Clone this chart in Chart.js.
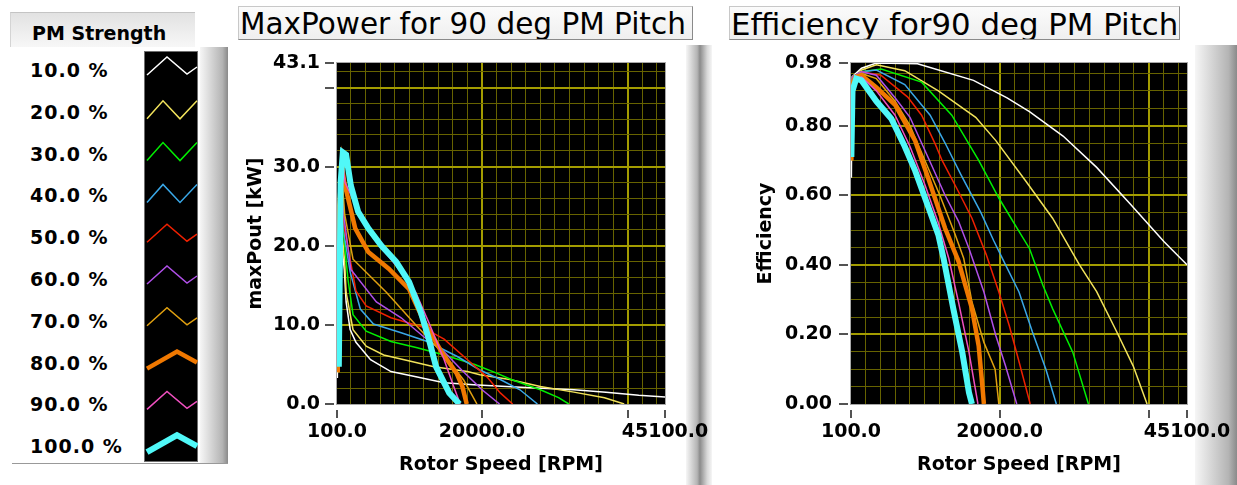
<!DOCTYPE html>
<html>
<head>
<meta charset="utf-8">
<script src="https://cdn.jsdelivr.net/npm/chart.js@4.4.1/dist/chart.umd.min.js"></script>
<style>
  body { margin: 0; width: 1237px; height: 485px; overflow: hidden; position: relative; background: #fff;
         font-family: "DejaVu Sans", Verdana, sans-serif; }
  .abs { position: absolute; }
  .tab { left: 10px; top: 12px; width: 185px; height: 35px; background: linear-gradient(#e2e2e2, #f7f7f7);
         border-top: 1px solid #c4c4c4; border-left: 1px solid #d4d4d4; box-sizing: border-box;
         font-weight: bold; font-size: 19px; line-height: 40px; padding-left: 21px; }
  .legbox { left: 12px; top: 47px; width: 216px; height: 416px; background: #fff; border-bottom: 1px solid #999; }
  .shade-r { background: linear-gradient(to right, #f6f6f6, #b4b4b4 80%, #8a8a8a); }
  .shade-l { background: linear-gradient(to right, #8c8c8c, #d8d8d8 60%, #f6f6f6); }
  .leglabel { left: 30px; font-weight: bold; font-size: 19px; line-height: 22px; white-space: nowrap; letter-spacing: 1px; }
  .title { height: 34px; box-sizing: border-box; background: linear-gradient(#fbfbfb, #efefef);
           border: 1px solid #c8c8c8; border-right-color: #8a8a8a; border-bottom-color: #8a8a8a;
           line-height: 34px; padding-left: 1px; white-space: nowrap; overflow: hidden; }
</style>
</head>
<body>
<div class="abs tab">PM Strength</div>
<div class="abs legbox"></div>
<div class="abs shade-r" style="left:200px;top:47px;width:28px;height:416px"></div>
<canvas id="legendSwatches" class="abs" width="54" height="411" style="left:144px;top:51px"></canvas>
<div id="legendLabels"></div>

<div class="abs" style="left:232px;top:45px;width:468px;height:440px;background:#fff"></div>
<div class="abs shade-r" style="left:686px;top:45px;width:14px;height:440px"></div>
<div class="abs title" style="left:238px;top:6px;width:455px;font-size:29.5px">MaxPower for 90 deg PM Pitch</div>

<div class="abs" style="left:700px;top:45px;width:537px;height:440px;background:#fff"></div>
<div class="abs shade-l" style="left:700px;top:45px;width:12px;height:440px"></div>
<div class="abs shade-r" style="left:1195px;top:45px;width:42px;height:440px"></div>
<div class="abs title" style="left:729px;top:6px;width:451px;font-size:30.8px">Efficiency for90 deg PM Pitch</div>

<canvas id="effChart" class="abs" width="537" height="440" style="left:700px;top:45px"></canvas>
<canvas id="powerChart" class="abs" width="480" height="440" style="left:232px;top:45px;z-index:5"></canvas>

<script>
// PM Strength legend entries
const pmLabels = ['10.0 %', '20.0 %', '30.0 %', '40.0 %', '50.0 %', '60.0 %', '70.0 %', '80.0 %', '90.0 %', '100.0 %'];

// MaxPower: [rotor speed RPM, maxPout kW]
const power10 = [[150, 3.3], [300, 20], [700, 20.5], [1100, 17], [1350, 12.9], [1900, 9.4], [2700, 7.8], [4700, 5.6], [7500, 4.1], [11100, 3.4], [14800, 2.7], [19400, 2.4], [26000, 2.1], [32600, 1.8], [37000, 1.5], [41500, 1.1], [45100, 0.9]];
const power20 = [[200, 4], [450, 19.5], [800, 21.5], [1150, 18], [1350, 14.1], [2300, 9.4], [4100, 7.3], [6500, 6.2], [10200, 5.4], [13400, 4.7], [18000, 4.1], [19700, 3.7], [23800, 3.1], [28000, 2.2], [32600, 1.5], [36800, 0.8], [39500, 0]];
const power30 = [[200, 5], [450, 22], [800, 23.5], [1150, 20], [1600, 15.8], [2300, 11.3], [4100, 9.2], [7500, 7.9], [11100, 7.1], [14800, 6.2], [19000, 5.0], [22000, 3.9], [24000, 3.1], [28000, 1.8], [30500, 0.8], [31900, 0]];
const power40 = [[200, 6], [450, 23], [800, 25], [1150, 21], [1900, 16.7], [3300, 12], [5100, 10.1], [8900, 9], [12500, 7.9], [16600, 6], [19700, 4.3], [22500, 3.1], [25200, 1.8], [27600, 0]];
const power50 = [[200, 7], [450, 24], [800, 26], [1150, 22], [2700, 14.3], [4100, 12.4], [7500, 10.9], [11600, 9.8], [14800, 8.2], [18000, 5.6], [20700, 3.4], [22500, 1.4], [24200, 0]];
const power60 = [[200, 7], [450, 25], [800, 27], [1150, 23], [2000, 17], [5500, 12.9], [8900, 10.9], [12000, 8.5], [14800, 6.6], [17200, 4.3], [20000, 1.8], [22400, 0]];
const power70 = [[200, 6], [450, 26], [800, 28.5], [1150, 24], [2300, 18.3], [6900, 14.1], [11100, 9.8], [14500, 6.5], [17500, 3.0], [19300, 0]];
const power80 = [[200, 4], [400, 25], [800, 30], [1100, 28], [2600, 22.2], [4400, 19.2], [7200, 17.1], [10000, 14.5], [12000, 10.5], [14500, 6.5], [16500, 3.9], [17300, 2.2], [17900, 0]];
const power90 = [[200, 5], [450, 27], [900, 30.2], [1200, 28], [4400, 21.8], [8200, 17.5], [10900, 14.1], [12700, 10.3], [14800, 5.6], [16000, 2.5], [17000, 0]];
const power100 = [[350, 4.7], [600, 28], [900, 31.8], [1350, 31.5], [2000, 27.6], [3000, 24.3], [4400, 22.2], [6200, 20], [8200, 18], [10000, 15.4], [11600, 11.6], [12700, 8.2], [13700, 4.7], [15500, 1.4], [16900, 0]];

// Efficiency: [rotor speed RPM, efficiency]
const eff10 = [[150, 0.65], [250, 0.94], [1500, 0.965], [3500, 0.98], [9000, 0.978], [16500, 0.93], [21000, 0.88], [24000, 0.84], [28500, 0.77], [33000, 0.68], [37500, 0.575], [42000, 0.467], [45100, 0.40]];
const eff20 = [[150, 0.70], [300, 0.93], [1500, 0.96], [3500, 0.975], [7300, 0.958], [11800, 0.90], [16800, 0.824], [19500, 0.757], [23500, 0.641], [27100, 0.534], [30700, 0.40], [33000, 0.323], [35700, 0.207], [37900, 0.109], [39750, 0]];
const eff30 = [[150, 0.72], [300, 0.94], [1500, 0.955], [4150, 0.963], [9560, 0.925], [13600, 0.83], [17200, 0.70], [19900, 0.592], [22600, 0.496], [24000, 0.447], [25800, 0.341], [27100, 0.274], [29800, 0.149], [31900, 0]];
const eff40 = [[150, 0.74], [300, 0.94], [1500, 0.955], [3500, 0.96], [7300, 0.918], [10700, 0.83], [12700, 0.75], [14800, 0.66], [17500, 0.55], [19200, 0.47], [20800, 0.40], [22600, 0.322], [24400, 0.207], [26200, 0.10], [27600, 0]];
const eff50 = [[150, 0.74], [300, 0.94], [1500, 0.955], [4100, 0.945], [7700, 0.882], [9560, 0.83], [11400, 0.746], [12300, 0.70], [14500, 0.61], [16300, 0.534], [18200, 0.43], [19900, 0.322], [21300, 0.225], [22400, 0.138], [24100, 0]];
const eff60 = [[150, 0.74], [300, 0.94], [1500, 0.955], [3500, 0.945], [6000, 0.88], [8000, 0.824], [10400, 0.71], [12700, 0.60], [14500, 0.525], [15900, 0.447], [17900, 0.322], [19500, 0.196], [20800, 0.109], [22300, 0]];
const eff70 = [[150, 0.72], [300, 0.93], [1500, 0.95], [3500, 0.935], [6000, 0.87], [8000, 0.80], [10000, 0.70], [12000, 0.60], [14000, 0.49], [15200, 0.418], [16300, 0.293], [17900, 0.177], [19400, 0.10], [19900, 0]];
const eff80 = [[150, 0.70], [250, 0.92], [700, 0.94], [1500, 0.945], [3500, 0.91], [6000, 0.86], [8700, 0.756], [10500, 0.645], [12700, 0.505], [14500, 0.41], [16300, 0.274], [17200, 0.167], [17700, 0.05], [17900, 0]];
const eff90 = [[150, 0.72], [300, 0.92], [800, 0.935], [1500, 0.94], [3500, 0.90], [6000, 0.83], [8000, 0.74], [10000, 0.63], [11800, 0.52], [13200, 0.418], [14500, 0.293], [15900, 0.149], [17100, 0]];
const eff100 = [[150, 0.71], [300, 0.90], [800, 0.935], [1500, 0.93], [3500, 0.87], [5500, 0.82], [7300, 0.74], [8700, 0.67], [10500, 0.563], [11800, 0.486], [12500, 0.418], [13800, 0.274], [15000, 0.149], [15900, 0.033], [16300, 0]];

// axis labels
const rpmTickValues = [100, 20000, 45100];
const rpmTickLabels = ['100.0', '20000.0', '45100.0'];
const powerTickValues = [0, 10, 20, 30, 43.1];
const powerTickLabels = ['0.0', '10.0', '20.0', '30.0', '43.1'];
const effTickValues = [0, 0.2, 0.4, 0.6, 0.8, 0.98];
const effTickLabels = ['0.00', '0.20', '0.40', '0.60', '0.80', '0.98'];

// look
const seriesColors = ['#ffffff', '#f2e35c', '#00f000', '#3aa8e8', '#f02000', '#b050e8', '#e0a010', '#f07800', '#f050c0', '#50f8f8'];
const seriesWidths = [1.5, 1.5, 1.5, 1.5, 1.5, 1.5, 1.5, 4.5, 1.5, 6];
const gridMinor = '#676300';
const gridMajor = '#a39c00';

Chart.defaults.font.family = '"DejaVu Sans", Verdana, sans-serif';
Chart.defaults.color = '#000';

// legend on the left
const legendHolder = document.getElementById('legendLabels');
pmLabels.forEach((txt, i) => {
  const d = document.createElement('div');
  d.className = 'abs leglabel';
  d.style.top = (70 + i * 41.8 - 11) + 'px';
  d.textContent = txt;
  legendHolder.appendChild(d);
});
const swatchThin = [[3, 5], [23, -13], [43, 4], [53, -3]];
const swatchV = [[3, 7], [19, -11], [36, 7], [53, -11]];
const swatchThick = [[3, 6], [33, -11], [53, 0]];
const swatchShapes = [swatchThin, swatchV, swatchV, swatchV, swatchThin, swatchThin, swatchThin, swatchThick, swatchThin, swatchThick];
const lc = document.getElementById('legendSwatches').getContext('2d');
lc.fillStyle = '#000';
lc.fillRect(0, 0, 54, 411);
lc.strokeStyle = '#6e6e6e';
lc.strokeRect(0.5, 0.5, 53, 410);
pmLabels.forEach((txt, i) => {
  const cy = 70 + i * 41.8 - 51;
  lc.beginPath();
  swatchShapes[i].forEach(([dx, dy], k) => k ? lc.lineTo(dx, cy + dy) : lc.moveTo(dx, cy + dy));
  lc.strokeStyle = seriesColors[i];
  lc.lineWidth = seriesWidths[i];
  lc.lineJoin = 'miter';
  lc.stroke();
});

// black plot area, frame and outside tick marks
const plotFrame = {
  id: 'plotFrame',
  beforeDraw(chart) {
    const a = chart.chartArea, c = chart.ctx;
    c.save();
    c.fillStyle = '#000';
    c.fillRect(a.left, a.top, a.right - a.left, a.bottom - a.top);
    c.restore();
  },
  afterDraw(chart, args, o) {
    const a = chart.chartArea, c = chart.ctx;
    c.save();
    c.strokeStyle = '#a8a8a8';
    c.lineWidth = 1;
    c.strokeRect(a.left - 0.5, a.top - 0.5, a.right - a.left + 1, a.bottom - a.top + 1);
    c.strokeStyle = '#1a1a1a';
    c.lineWidth = 1.5;
    o.xMarks.forEach(v => {
      const x = Math.round(chart.scales.x.getPixelForValue(v));
      c.beginPath(); c.moveTo(x, a.bottom + 6); c.lineTo(x, a.bottom + 14); c.stroke();
    });
    o.yMarks.forEach(v => {
      const y = Math.round(chart.scales.y.getPixelForValue(v));
      c.beginPath(); c.moveTo(a.left - 12, y); c.lineTo(a.left - 3, y); c.stroke();
    });
    c.restore();
  }
};

function steps(from, to, step) {
  const out = [];
  for (let k = 1; from + k * step < to - 1e-9; k++) out.push(Math.round((from + k * step) * 1000) / 1000);
  return out;
}
function labelFor(values, labels, v) {
  const k = values.findIndex(t => Math.abs(t - v) < 1e-6);
  return k < 0 ? '' : labels[k];
}

function buildChart(id, series, cfg) {
  const datasets = series.map((pts, i) => ({
    label: pmLabels[i],
    data: pts.map(p => ({x: p[0], y: p[1]})),
    borderColor: seriesColors[i],
    borderWidth: seriesWidths[i],
    pointRadius: 0,
    tension: 0,
    fill: false,
    order: series.length - i
  }));
  const edge = (v, lo, hi) => Math.abs(v - lo) < 1e-6 || Math.abs(v - hi) < 1e-6;
  const gridColor = (isMajor, lo, hi) => ctx => {
    const v = ctx.tick.value;
    if (edge(v, lo, hi)) return 'rgba(0,0,0,0)';
    return isMajor(v) ? gridMajor : gridMinor;
  };
  const gridWidth = isMajor => ctx => isMajor(ctx.tick.value) ? 2 : 1;
  const xMajor = v => v % 20000 === 0 && v > 0;
  return new Chart(document.getElementById(id), {
    type: 'line',
    data: {datasets},
    plugins: [plotFrame],
    options: {
      responsive: false,
      animation: false,
      devicePixelRatio: 1,
      layout: {padding: {left: 0, top: 18, right: cfg.padRight, bottom: 0}},
      plugins: {
        legend: {display: false},
        tooltip: {enabled: false},
        plotFrame: {xMarks: [100, 20000, 40000, 45100], yMarks: cfg.yMarks}
      },
      scales: {
        x: {
          type: 'linear', min: 100, max: 45100,
          afterBuildTicks: s => { s.ticks = [100, ...steps(0, 45100, 2000), 45100].map(v => ({value: v})); },
          afterFit: s => { s.height = 81; s.paddingLeft = 0; s.paddingRight = 0; },
          grid: {drawTicks: false, color: gridColor(xMajor, 100, 45100), lineWidth: gridWidth(xMajor)},
          border: {display: false},
          ticks: {autoSkip: false, maxRotation: 0, padding: 17, font: {size: 19, weight: 'bold'},
                  callback: v => labelFor(rpmTickValues, rpmTickLabels, v)},
          title: {display: true, text: 'Rotor Speed [RPM]', font: {size: 19, weight: 'bold'}, padding: {top: 0, bottom: 9}}
        },
        y: {
          type: 'linear', min: 0, max: cfg.yMax,
          afterBuildTicks: s => { s.ticks = [0, ...steps(0, cfg.yMax, cfg.yStep), cfg.yMax].map(v => ({value: v})); },
          afterFit: s => { s.width = cfg.yWidth; s.paddingTop = 0; s.paddingBottom = 0; },
          grid: {drawTicks: false, color: gridColor(cfg.isMajor, 0, cfg.yMax), lineWidth: gridWidth(cfg.isMajor)},
          border: {display: false},
          ticks: {autoSkip: false, padding: cfg.yPad, font: {size: 19, weight: 'bold'},
                  callback: v => labelFor(cfg.tickValues, cfg.tickLabels, v)},
          title: {display: true, text: cfg.yTitle, font: {size: 19, weight: 'bold'}, padding: {top: cfg.yTitlePad, bottom: 0}}
        }
      }
    }
  });
}

buildChart('powerChart',
  [power10, power20, power30, power40, power50, power60, power70, power80, power90, power100],
  {padRight: 47, yWidth: 105, yPad: 17, yMax: 43.1, yStep: 2, yTitle: 'maxPout [kW]', yTitlePad: 13,
   isMajor: v => v > 0 && v < 43 && Math.abs(v % 10) < 1e-6, tickValues: powerTickValues, tickLabels: powerTickLabels,
   yMarks: [0, 10, 20, 30, 40, 43.1]});

buildChart('effChart',
  [eff10, eff20, eff30, eff40, eff50, eff60, eff70, eff80, eff90, eff100],
  {padRight: 50, yWidth: 151, yPad: 19, yMax: 0.98, yStep: 0.05, yTitle: 'Efficiency', yTitlePad: 55,
   isMajor: v => v > 0 && v < 0.97 && Math.abs(v * 5 - Math.round(v * 5)) < 1e-6, tickValues: effTickValues, tickLabels: effTickLabels,
   yMarks: effTickValues});
</script>
</body>
</html>
